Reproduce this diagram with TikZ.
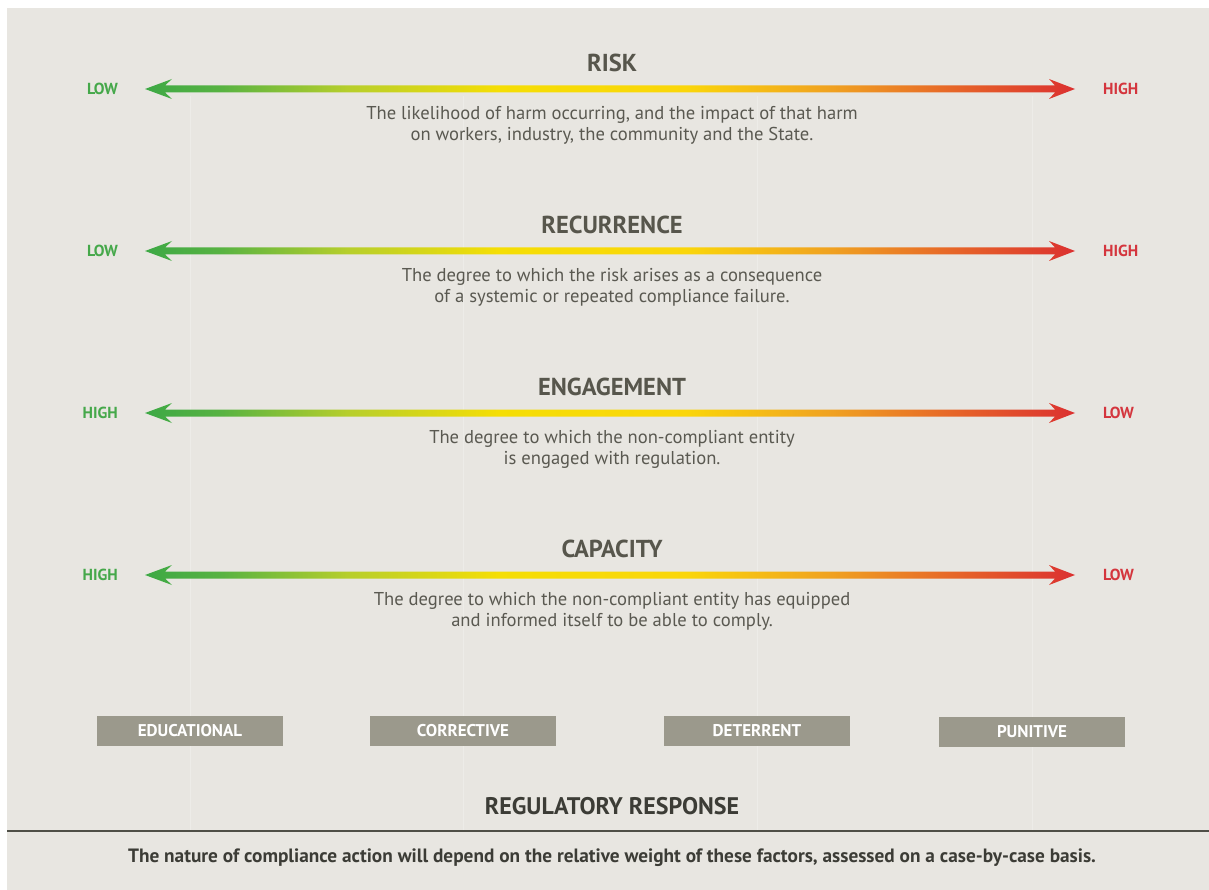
\documentclass[tikz,border=0pt]{standalone}
\usepackage{fontspec}
\setmainfont{PT Sans}
\usetikzlibrary{calc}

\definecolor{paper}{HTML}{E8E6E1}
\definecolor{guide}{HTML}{EDECE8}
\definecolor{lowgreen}{HTML}{45A84A}
\definecolor{highred}{HTML}{D4353D}
\definecolor{headgrey}{HTML}{57564C}
\definecolor{textgrey}{HTML}{5A5951}
\definecolor{boxgrey}{HTML}{9B998C}
\definecolor{rulegrey}{HTML}{4F4F47}
\definecolor{footgrey}{HTML}{3C3C36}

% green -> yellow -> red; the path's box maps onto 25bp..75bp
\pgfdeclarehorizontalshading{riskscale}{100bp}{%
  rgb(0bp)=(0.24,0.66,0.27); rgb(25bp)=(0.24,0.66,0.27);
  rgb(29bp)=(0.34,0.70,0.26); rgb(36bp)=(0.72,0.81,0.17);
  rgb(44bp)=(0.96,0.87,0.02); rgb(54bp)=(0.98,0.84,0.04);
  rgb(62bp)=(0.94,0.63,0.13); rgb(69bp)=(0.90,0.38,0.16);
  rgb(75bp)=(0.86,0.19,0.19); rgb(100bp)=(0.86,0.19,0.19)}

\tikzset{
  endlabel/.style={inner sep=0pt, font=\fontsize{16}{16}\selectfont\bfseries},
  factortitle/.style={inner sep=0pt, text=headgrey, font=\fontsize{24.5}{24.5}\selectfont\bfseries},
  factortext/.style={inner sep=0pt, align=center, text=textgrey, font=\fontsize{18.6}{21.5}\selectfont},
  respbox/.style={fill=boxgrey, text=white, minimum width=186pt, minimum height=30pt,
    inner sep=0pt, font=\fontsize{17}{17}\selectfont\bfseries},
  guideline/.style={draw=guide, line width=1pt},
}

% double-headed shaded arrow between two tip coordinates
\newcommand\scalearrow[2]{%
  \shade[shading=riskscale]
    (#1) -- ($(#1)+(27,-10)$) -- ($(#1)+(20,-3.5)$) -- ($(#2)+(-20,-3.5)$)
    -- ($(#2)+(-26,-10)$) -- (#2) -- ($(#2)+(-26,10)$) -- ($(#2)+(-20,3.5)$)
    -- ($(#1)+(20,3.5)$) -- ($(#1)+(27,10)$) -- cycle;}

% #1 id, #2 row y, #3 title, #4 left label, #5 its colour,
% #6 right label, #7 its colour, #8 description
\newcommand\factorrow[8]{%
  \node[endlabel, text=#5, anchor=east] (#1-l) at (118,#2) {#4};
  \node[endlabel, text=#7, anchor=west] (#1-r) at (1103,#2) {#6};
  \node[factortitle] (#1-t) at (612,#2-26) {#3};
  \node[factortext, anchor=north] (#1-d) at (612,#2+17) {#8};
  \coordinate (#1-a) at ($(#1-l.east)+(27,0)$);
  \coordinate (#1-b) at ($(#1-r.west)+(-28,0)$);
  \scalearrow{#1-a}{#1-b}}

\begin{document}
\begin{tikzpicture}[x=1pt, y=-1pt]
  \useasboundingbox (0,0) rectangle (1209,890);
  \fill[white] (0,0) rectangle (1209,890);
  \fill[paper] (7,8) rectangle (1209,890);

  % faint guides under each response column
  \foreach \gx in {190,463,757,1032}
    \draw[guideline] (\gx,96) -- (\gx,830);

  \factorrow{risk}{89}{RISK}{LOW}{lowgreen}{HIGH}{highred}
    {The likelihood of harm occurring, and the impact of that harm\\on workers, industry, the community and the State.}
  \factorrow{rec}{251}{RECURRENCE}{LOW}{lowgreen}{HIGH}{highred}
    {The degree to which the risk arises as a consequence\\of a systemic or repeated compliance failure.}
  \factorrow{eng}{413}{ENGAGEMENT}{HIGH}{lowgreen}{LOW}{highred}
    {The degree to which the non-compliant entity\\is engaged with regulation.}
  \factorrow{cap}{575}{CAPACITY}{HIGH}{lowgreen}{LOW}{highred}
    {The degree to which the non-compliant entity has equipped\\and informed itself to be able to comply.}

  \node[respbox] (edu) at (190,731) {EDUCATIONAL};
  \node[respbox] (cor) at (463,731) {CORRECTIVE};
  \node[respbox] (det) at (757,731) {DETERRENT};
  \node[respbox] (pun) at (1032,732) {PUNITIVE};

  \node[inner sep=0pt, text=footgrey, font=\fontsize{24}{24}\selectfont\bfseries] (resp) at (612,806) {REGULATORY RESPONSE};
  \draw[rulegrey, line width=2pt] (7,831) -- (1209,831);
  \node[inner sep=0pt, text=footgrey, font=\fontsize{19.3}{19.3}\selectfont\bfseries] (note) at (612,858)
    {The nature of compliance action will depend on the relative weight of these factors, assessed on a case-by-case basis.};
\end{tikzpicture}
\end{document}
